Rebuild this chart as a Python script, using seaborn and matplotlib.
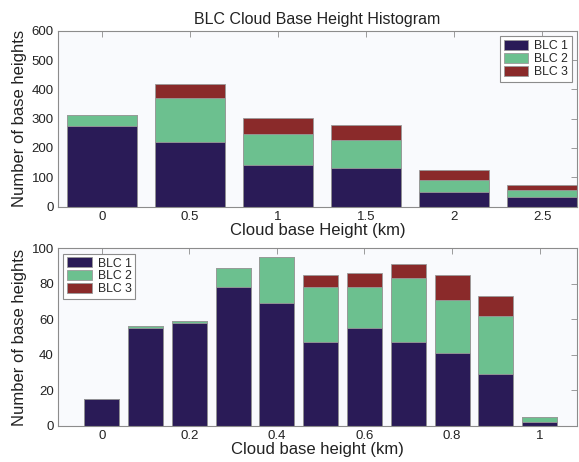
import matplotlib
matplotlib.use("Agg")
import matplotlib.pyplot as plt
import seaborn as sns
import pandas as pd
import numpy as np
from matplotlib.patches import Patch

# --- Data ---
top_x = [0, 0.5, 1, 1.5, 2, 2.5]
top_blc1 = [275, 219, 142, 132, 49, 34]
top_blc2 = [39, 151, 106, 97, 40, 24]
top_blc3 = [0, 50, 54, 49, 37, 17]

bot_x = [0, 0.1, 0.2, 0.3, 0.4, 0.5, 0.6, 0.7, 0.8, 0.9, 1.0]
bot_blc1 = [15, 55, 58, 78, 69, 47, 55, 47, 41, 29, 2]
bot_blc2 = [0, 1, 1, 11, 26, 31, 23, 36, 30, 33, 3]
bot_blc3 = [0, 0, 0, 0, 0, 7, 8, 8, 14, 11, 0]

series_names = ['BLC 1', 'BLC 2', 'BLC 3']
colors = ['#2a1b57', '#6cc08f', '#8a2a2a']

sns.set_theme(style='white')
plt.rcParams['font.family'] = ['Liberation Sans', 'DejaVu Sans']


def stacked(ax, x, blc1, blc2, blc3):
    df = pd.DataFrame({'x': x, 'b1': blc1, 'b2': blc2, 'b3': blc3})
    df['s1'] = df['b1']
    df['s2'] = df['b1'] + df['b2']
    df['s3'] = df['s2'] + df['b3']
    # draw cumulative totals back to front
    for col, c in zip(['s3', 's2', 's1'], colors[::-1]):
        sns.barplot(data=df, x='x', y=col, native_scale=True, color=c,
                    saturation=1, width=0.8, edgecolor='#9a9a9a',
                    linewidth=0.6, ax=ax)


def style_axes(ax):
    ax.set_facecolor('#f9fafd')
    for s in ax.spines.values():
        s.set_color('#8c8c8c')
        s.set_linewidth(0.8)
    ax.tick_params(direction='in', length=4, width=0.6, color='#8c8c8c',
                   top=True, right=True, labelsize=9.5, labelcolor='#222222',
                   pad=3)


fig = plt.figure(figsize=(5.79, 4.62), dpi=100)
ax1 = fig.add_axes([0.100, 0.553, 0.897, 0.380])
ax2 = fig.add_axes([0.100, 0.078, 0.897, 0.385])

# top panel
stacked(ax1, top_x, top_blc1, top_blc2, top_blc3)
style_axes(ax1)
ax1.set_xlim(-0.25, 2.7)
ax1.set_ylim(0, 600)
ax1.set_xticks(top_x)
ax1.set_xticklabels(['0', '0.5', '1', '1.5', '2', '2.5'])
ax1.set_yticks([0, 100, 200, 300, 400, 500, 600])
ax1.set_title('BLC Cloud Base Height Histogram', fontsize=11.5, color='#222222', pad=5)
ax1.set_xlabel('Cloud base Height (km)', fontsize=12, color='#222222', labelpad=0)
ax1.set_ylabel('Number of base heights', fontsize=12, color='#222222', labelpad=3)

# bottom panel
stacked(ax2, bot_x, bot_blc1, bot_blc2, bot_blc3)
style_axes(ax2)
ax2.set_xlim(-0.1, 1.086)
ax2.set_ylim(0, 100)
ax2.set_xticks([0, 0.2, 0.4, 0.6, 0.8, 1.0])
ax2.set_xticklabels(['0', '0.2', '0.4', '0.6', '0.8', '1'])
ax2.set_yticks([0, 20, 40, 60, 80, 100])
ax2.set_xlabel('Cloud base height (km)', fontsize=12, color='#222222', labelpad=0)
ax2.set_ylabel('Number of base heights', fontsize=12, color='#222222', labelpad=3)

handles = [Patch(facecolor=c, edgecolor='#9a9a9a', linewidth=0.6) for c in colors]
for ax, loc in [(ax1, 'upper right'), (ax2, 'upper left')]:
    leg = ax.legend(handles, series_names, loc=loc, fontsize=8.8, frameon=True,
                    fancybox=False, edgecolor='#8c8c8c', framealpha=1,
                    handlelength=2.0, handleheight=0.9, labelspacing=0.05,
                    borderpad=0.3, handletextpad=0.5, borderaxespad=0.45)
    leg.get_frame().set_linewidth(0.8)

fig.savefig('out.png', dpi=100, facecolor='white')
